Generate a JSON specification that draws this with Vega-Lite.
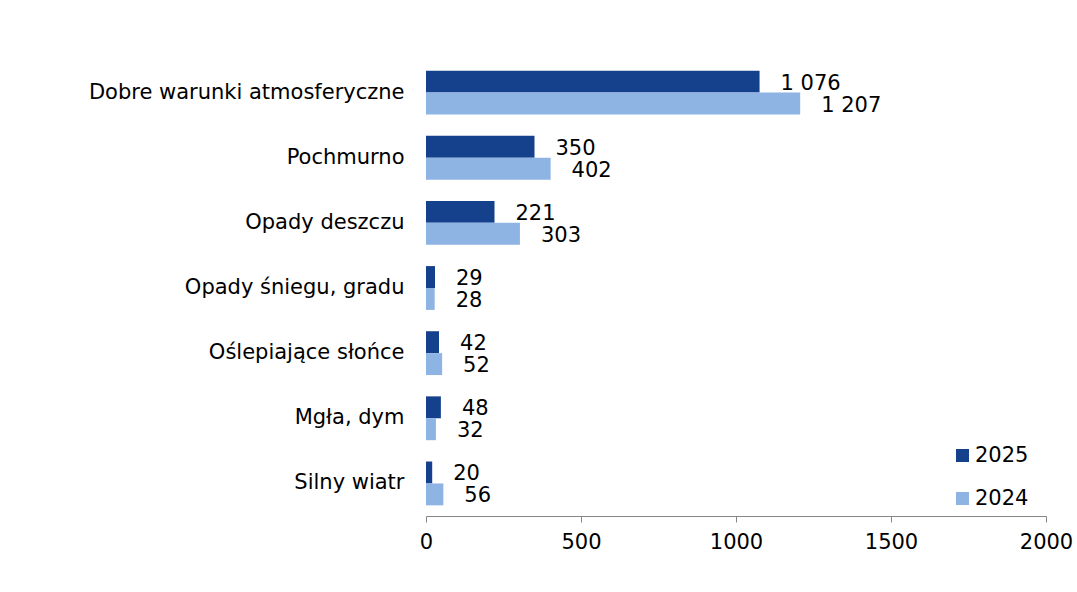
{
  "$schema": "https://vega.github.io/schema/vega-lite/v6.json",
  "autosize": {"type": "none"},
  "width": 620,
  "height": 456,
  "padding": {"left": 426, "top": 60, "right": 31, "bottom": 76},
  "background": "white",
  "config": {
    "font": "DejaVu Sans",
    "view": {"stroke": null},
    "locale": {"number": {"decimal": ",", "thousands": " ", "grouping": [3], "currency": ["", " zł"]}}
  },
  "data": {
    "values": [
      {"kategoria": "Dobre warunki atmosferyczne", "rok": "2025", "wartosc": 1076},
      {"kategoria": "Dobre warunki atmosferyczne", "rok": "2024", "wartosc": 1207},
      {"kategoria": "Pochmurno", "rok": "2025", "wartosc": 350},
      {"kategoria": "Pochmurno", "rok": "2024", "wartosc": 402},
      {"kategoria": "Opady deszczu", "rok": "2025", "wartosc": 221},
      {"kategoria": "Opady deszczu", "rok": "2024", "wartosc": 303},
      {"kategoria": "Opady śniegu, gradu", "rok": "2025", "wartosc": 29},
      {"kategoria": "Opady śniegu, gradu", "rok": "2024", "wartosc": 28},
      {"kategoria": "Oślepiające słońce", "rok": "2025", "wartosc": 42},
      {"kategoria": "Oślepiające słońce", "rok": "2024", "wartosc": 52},
      {"kategoria": "Mgła, dym", "rok": "2025", "wartosc": 48},
      {"kategoria": "Mgła, dym", "rok": "2024", "wartosc": 32},
      {"kategoria": "Silny wiatr", "rok": "2025", "wartosc": 20},
      {"kategoria": "Silny wiatr", "rok": "2024", "wartosc": 56}
    ]
  },
  "encoding": {
    "y": {
      "field": "kategoria",
      "type": "nominal",
      "sort": null,
      "title": null,
      "scale": {"paddingInner": 0.327, "paddingOuter": 0.1635},
      "axis": {"domain": false, "ticks": false, "labelPadding": 22, "labelFontSize": 21, "labelColor": "#000000", "labelLimit": 420}
    },
    "yOffset": {"field": "rok", "type": "nominal", "sort": ["2025", "2024"], "scale": {"paddingInner": 0, "paddingOuter": 0}},
    "x": {
      "field": "wartosc",
      "type": "quantitative",
      "title": null,
      "scale": {"domain": [0, 2000], "nice": false},
      "axis": {"values": [0, 500, 1000, 1500, 2000], "format": "d", "grid": false, "domainColor": "#868686", "tickColor": "#868686", "tickSize": 6, "labelPadding": 9, "labelFontSize": 21, "labelColor": "#000000", "labelFlush": false}
    }
  },
  "layer": [
    {
      "mark": {"type": "bar"},
      "encoding": {
        "color": {
          "field": "rok",
          "type": "nominal",
          "title": null,
          "scale": {"domain": ["2025", "2024"], "range": ["#15418C", "#8EB4E3"]},
          "legend": {
            "orient": "none",
            "legendX": 526,
            "legendY": 385,
            "symbolType": "square",
            "symbolSize": 169,
            "symbolStrokeWidth": 0,
            "labelFontSize": 21,
            "labelColor": "#000000",
            "rowPadding": 21,
            "labelOffset": 2,
            "padding": 0
          }
        }
      }
    },
    {
      "mark": {"type": "text", "align": "left", "baseline": "middle", "dx": 21, "dy": 2, "fontSize": 21, "color": "#000000"},
      "encoding": {
        "text": {"field": "wartosc", "type": "quantitative", "format": ",d"}
      }
    }
  ]
}
